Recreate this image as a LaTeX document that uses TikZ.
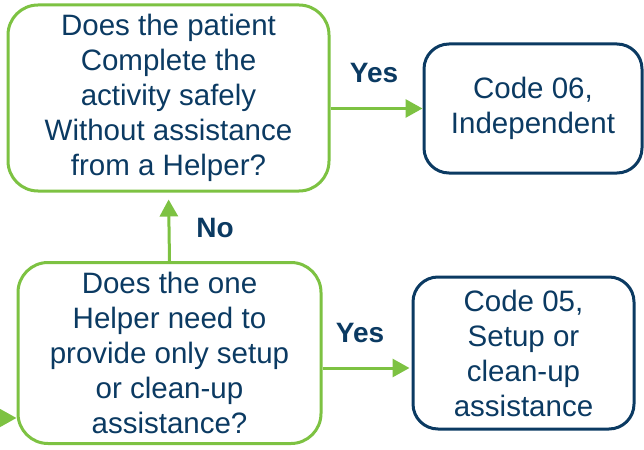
\documentclass[tikz,border=0pt]{standalone}
\usepackage{fontspec}
\setmainfont{Liberation Sans}
\usepackage{tikz}
\usetikzlibrary{arrows.meta}
\definecolor{navyblue}{HTML}{0B3A62}
\definecolor{leafgreen}{HTML}{7DC242}
\tikzset{
  every node/.style={font=\fontsize{29.5}{35}\selectfont, text=navyblue},
  askbox/.style={draw=leafgreen, line width=3pt, rounded corners=30pt, align=center, inner sep=0pt},
  codebox/.style={draw=navyblue, line width=3pt, rounded corners=25pt, align=center, inner sep=0pt},
  flow/.style={draw=leafgreen, line width=3pt, -{Triangle[length=17pt,width=18pt]}},
  answer/.style={font=\fontsize{28}{34}\selectfont\bfseries, anchor=base}
}

\begin{document}
\begin{tikzpicture}[x=1pt,y=-1pt]
\useasboundingbox (0,0) rectangle (644,449);
% decision boxes
\node[askbox, minimum width=321pt, minimum height=186pt] (patient) at (168.5,98) {Does the patient\\Complete the\\activity safely\\Without assistance\\from a Helper?};
\node[askbox, minimum width=303pt, minimum height=181pt] (helper) at (169.5,353) {Does the one\\Helper need to\\provide only setup\\or clean-up\\assistance?};
% code boxes
\node[codebox, minimum width=218pt, minimum height=129pt] (code06) at (533,108.5) {Code 06,\\Independent};
\node[codebox, minimum width=221pt, minimum height=152pt] (code05) at (523.5,353) {Code 05,\\Setup or\\clean-up\\assistance};
% answers
\node[answer] (yes1) at (374,83) {Yes};
\node[answer] (no1) at (215,237) {No};
\node[answer] (yes2) at (360,342) {Yes};
% arrows
\coordinate (entry) at (-2,418);
\draw[flow] (entry) -- (entry -| helper.west);
\draw[flow] (patient.east |- code06.west) -- (code06.west);
\draw[flow, shorten >=7pt] (helper.north) -- (patient.south);
\draw[flow, shorten >=2pt] ([yshift=-15pt]helper.east) -- ([yshift=-15pt]code05.west);
\end{tikzpicture}
\end{document}
